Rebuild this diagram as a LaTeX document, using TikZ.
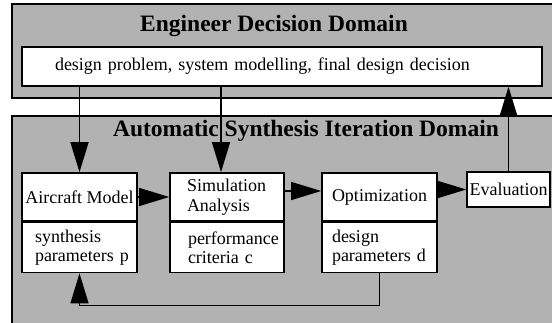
\documentclass[tikz,border=0pt]{standalone}
\usepackage{fontspec}
\setmainfont{Liberation Serif}
\usetikzlibrary{arrows.meta}
\hyphenpenalty=10000
\newcommand{\boxfont}{\fontsize{18}{19.5}\selectfont}
\newcommand{\titlefont}{\fontsize{23.5}{26}\selectfont\bfseries}

\begin{document}
\begin{tikzpicture}[x=1pt,y=-1pt,
  domainbox/.style={draw,line width=1.5pt,fill=black!30},
  box/.style={draw,line width=1.6pt,fill=white,inner sep=0pt,font=\boxfont},
  arr/.style={line width=1.3pt,-{Triangle[length=30pt,width=18pt]}}]
  \useasboundingbox (0,0) rectangle (552,322);
  \fill[white] (0,0) rectangle (552,322);
  \clip (0,0) rectangle (552,322);
  % the two domains
  \draw[domainbox] (12,4) rectangle (570,98);
  \draw[domainbox] (12,116) rectangle (570,340);
  \node[font=\titlefont] (engtitle) at (274,26) {Engineer Decision Domain};
  \node[font=\titlefont] (syntitle) at (306,131) {Automatic Synthesis Iteration Domain};
  \node[box,minimum height=39pt,text width=454pt,inner xsep=33pt,align=left] (problem) at (282,66.5)
    {design problem, system modelling, final design decision};
  % iteration boxes
  \node[box,minimum width=115pt,minimum height=48pt] (aircraft) at (79.5,197) {Aircraft Model};
  \node[box,minimum height=50pt,text width=89pt,inner xsep=13pt,align=left,anchor=north] (aircraftpar)
    at (aircraft.south) {synthesis\\parameters~p};
  \node[box,minimum height=48pt,text width=80pt,inner xsep=17pt,align=left] (sim) at (227,197)
    {Simulation\\Analysis};
  \node[box,minimum height=50pt,text width=78pt,inner xsep=18pt,align=left,anchor=north] (simpar)
    at (sim.south) {performance\\criteria~c};
  \node[box,minimum height=48pt,text width=95pt,inner xsep=10pt,align=left] (opt) at (379.5,197)
    {Optimization};
  \node[box,minimum height=50pt,text width=95pt,inner xsep=10pt,align=left,anchor=north] (optpar)
    at (opt.south) {design\\parameters~d};
  \node[box,minimum width=83pt,minimum height=35pt] (eval) at (508.5,189.5) {Evaluation};
  % connectors
  \draw[arr] (aircraft.north |- problem.south) -- (aircraft.north);
  \draw[arr] ([xshift=-6pt]sim.north |- problem.south) -- ([xshift=-6pt]sim.north);
  \draw[arr] (eval.north) -- (eval.north |- problem.south);
  \draw[arr] (aircraft.east) -- (sim.west);
  \draw[arr] ([yshift=6pt]sim.east) -- ([yshift=6pt]opt.west);
  \draw[arr] (opt.east |- eval.west) -- (eval.west);
  \draw[arr] (optpar.south) -- ++(0,32) -| (aircraftpar.south);
\end{tikzpicture}
\end{document}
